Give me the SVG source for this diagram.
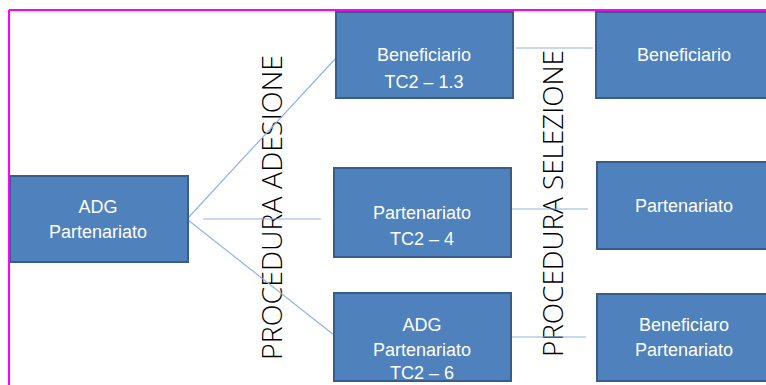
<svg xmlns="http://www.w3.org/2000/svg" width="766" height="385" viewBox="0 0 766 385">
<style>
.box{fill:#4f81bd;stroke:#385d8a;stroke-width:2}
.t{font-family:"Liberation Sans",Arial,sans-serif;font-size:18px;fill:#ffffff;text-anchor:middle}
.v{font-family:"Open Sans","Liberation Sans",Arial,sans-serif;font-weight:300;fill:#000000}
.c{stroke:#8eb4e3;stroke-width:1.2;fill:none}
</style>
<rect width="766" height="385" fill="#ffffff"/>
<g id="labels">
<text class="v" font-size="28" transform="translate(282,360) rotate(-90)" textLength="305" lengthAdjust="spacingAndGlyphs">PROCEDURA ADESIONE</text>
<text class="v" font-size="27" transform="translate(563,357) rotate(-90)" textLength="307" lengthAdjust="spacingAndGlyphs">PROCEDURA SELEZIONE</text>
</g>
<g id="connectors">
<line class="c" x1="188" y1="218" x2="336" y2="58"/>
<line class="c" x1="188" y1="220" x2="334" y2="335"/>
<line class="c" x1="203" y1="219" x2="321" y2="219"/>
<line class="c" x1="516" y1="48" x2="593" y2="48"/>
<line class="c" x1="511" y1="209" x2="588" y2="209"/>
<line class="c" x1="511" y1="337" x2="586" y2="337"/>
</g>
<g id="adg">
<rect class="box" x="10" y="176" width="178" height="86"/>
<text class="t" x="98" y="213">ADG</text>
<text class="t" x="98" y="238">Partenariato</text>
</g>
<g id="beneficiario-tc2">
<rect class="box" x="336" y="12" width="177" height="86"/>
<text class="t" x="424" y="61">Beneficiario</text>
<text class="t" x="424" y="88">TC2 – 1.3</text>
</g>
<g id="partenariato-tc2">
<rect class="box" x="334" y="168" width="177" height="89"/>
<text class="t" x="422" y="219">Partenariato</text>
<text class="t" x="422" y="245">TC2 – 4</text>
</g>
<g id="adg-tc2">
<rect class="box" x="334" y="293" width="177" height="88"/>
<text class="t" x="422" y="331">ADG</text>
<text class="t" x="422" y="356">Partenariato</text>
<text class="t" x="422" y="379">TC2 – 6</text>
</g>
<g id="beneficiario">
<rect class="box" x="596" y="12" width="172" height="86"/>
<text class="t" x="684" y="61">Beneficiario</text>
</g>
<g id="partenariato">
<rect class="box" x="597" y="162" width="171" height="87"/>
<text class="t" x="684" y="212">Partenariato</text>
</g>
<g id="beneficiaro-partenariato">
<rect class="box" x="597" y="294" width="171" height="87"/>
<text class="t" x="684" y="331">Beneficiaro</text>
<text class="t" x="684" y="356">Partenariato</text>
</g>
<g id="frame">
<line x1="9" y1="10" x2="766" y2="10" stroke="#ff00ff" stroke-width="2"/>
<line x1="9" y1="10" x2="9" y2="385" stroke="#ff00ff" stroke-width="2"/>
</g>
</svg>
